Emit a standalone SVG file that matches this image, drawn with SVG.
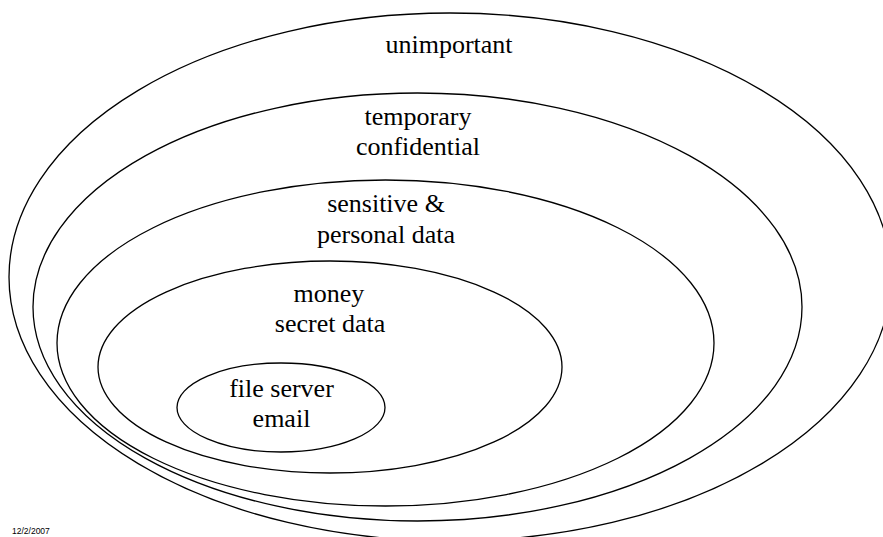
<svg xmlns="http://www.w3.org/2000/svg" width="883" height="537" viewBox="0 0 883 537">
<style>
.e{fill:none;stroke:#000;stroke-width:1.3}
</style>
<rect width="883" height="537" fill="#fff"/>
<g font-family="Liberation Serif, Times New Roman, Times, serif" font-size="26" text-anchor="middle" fill="#000">
<g id="unimportant">
<ellipse class="e" cx="450" cy="277" rx="441" ry="264"/>
<text x="449" y="53">unimportant</text>
</g>
<g id="temporary">
<ellipse class="e" cx="417.5" cy="307" rx="384.5" ry="214"/>
<text x="418" y="125">temporary</text>
<text x="418" y="155">confidential</text>
</g>
<g id="sensitive">
<ellipse class="e" cx="385.5" cy="343" rx="328.5" ry="163"/>
<text x="386" y="212">sensitive &amp;</text>
<text x="386" y="243">personal data</text>
</g>
<g id="money">
<ellipse class="e" cx="330" cy="367" rx="232" ry="106"/>
<text x="329" y="302">money</text>
<text x="330" y="332">secret data</text>
</g>
<g id="fileserver">
<ellipse class="e" cx="281" cy="407.5" rx="104" ry="44.5"/>
<text x="281.5" y="397">file server</text>
<text x="281.5" y="427">email</text>
</g>
</g>
<g id="connectors"></g>
<text x="12" y="534" font-family="Liberation Sans, Arial, sans-serif" font-size="8.5" fill="#000">12/2/2007</text>
</svg>
